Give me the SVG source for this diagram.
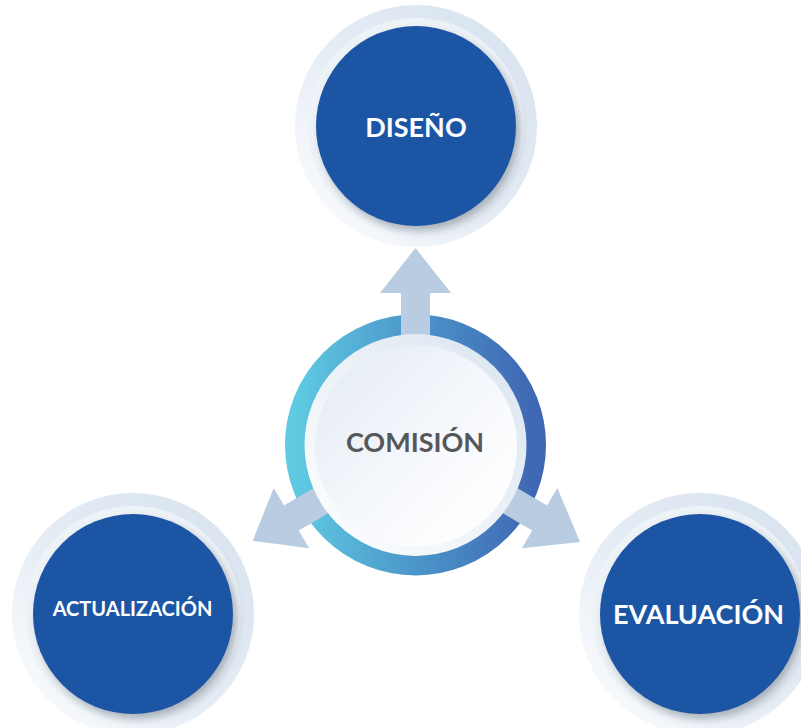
<svg xmlns="http://www.w3.org/2000/svg" width="801" height="728" viewBox="0 0 801 728">
<style>
.lbl{font-family:Lato,"Liberation Sans",sans-serif;font-weight:700;text-anchor:middle}
.w{fill:#ffffff}
.blue{fill:#1e55a4}
.arrow{fill:#b9cce1}
</style>
<defs>
<linearGradient id="halo" x1="1" y1="0" x2="0" y2="1">
<stop offset="0" stop-color="#d6e2ef"/>
<stop offset="0.55" stop-color="#e6edf5"/>
<stop offset="1" stop-color="#ffffff"/>
</linearGradient>
<linearGradient id="ring" x1="0" y1="0" x2="1" y2="0">
<stop offset="0" stop-color="#5fcae2"/>
<stop offset="0.5" stop-color="#4b95c9"/>
<stop offset="1" stop-color="#3f67b3"/>
</linearGradient>
<linearGradient id="core" x1="0" y1="0" x2="1" y2="1">
<stop offset="0" stop-color="#e3eaf4"/>
<stop offset="0.7" stop-color="#fbfcfe"/>
<stop offset="1" stop-color="#ffffff"/>
</linearGradient>
<linearGradient id="rim" x1="1" y1="0" x2="0" y2="1">
<stop offset="0" stop-color="#d9e4ef"/>
<stop offset="1" stop-color="#ffffff"/>
</linearGradient>
<filter id="sh" x="-30%" y="-30%" width="160%" height="160%">
<feGaussianBlur in="SourceAlpha" stdDeviation="4"/>
<feOffset dx="4" dy="5" result="b"/>
<feFlood flood-color="#6b7a86" flood-opacity="0.55"/>
<feComposite in2="b" operator="in"/>
<feMerge><feMergeNode/><feMergeNode in="SourceGraphic"/></feMerge>
</filter>
<g id="bubble">
<circle r="121" fill="url(#halo)"/>
<circle r="108" fill="#eef3f8"/>
<circle r="100" class="blue" filter="url(#sh)"/>
</g>
</defs>

<g id="connectors">
<g transform="translate(415.5,445)">
<polygon class="arrow" points="-14.5,-100 -14.5,-152 -35.5,-152 0,-197 35.5,-152 14.5,-152 14.5,-100"/>
<polygon class="arrow" transform="rotate(120.5)" points="-14.5,-100 -14.5,-144 -35,-144 0,-191 35,-144 14.5,-144 14.5,-100"/>
<polygon class="arrow" transform="rotate(239.5)" points="-14.5,-100 -14.5,-144 -35,-144 0,-189 35,-144 14.5,-144 14.5,-100"/>
</g>
</g>

<g id="comision">
<circle cx="415.5" cy="445" r="120" fill="none" stroke="url(#ring)" stroke-width="21"/>
<g transform="translate(415.5,445)">
<polygon class="arrow" points="-14.5,-100 -14.5,-135 14.5,-135 14.5,-100"/>
<polygon class="arrow" transform="rotate(120.5)" points="-14.5,-100 -14.5,-135 14.5,-135 14.5,-100"/>
<polygon class="arrow" transform="rotate(239.5)" points="-14.5,-100 -14.5,-135 14.5,-135 14.5,-100"/>
</g>
<circle cx="415.5" cy="445" r="111" fill="url(#rim)"/>
<circle cx="416" cy="446" r="101" fill="url(#core)"/>
<text class="lbl" x="415" y="452" font-size="27" fill="#555759">COMISIÓN</text>
</g>

<g id="diseno">
<use href="#bubble" x="416" y="126"/>
<text class="lbl w" x="416" y="137" font-size="27">DISEÑO</text>
</g>

<g id="actualizacion">
<use href="#bubble" x="133" y="614"/>
<text class="lbl w" x="132.5" y="616" font-size="20">ACTUALIZACIÓN</text>
</g>

<g id="evaluacion">
<use href="#bubble" x="700" y="614"/>
<text class="lbl w" x="698.5" y="624" font-size="27">EVALUACIÓN</text>
</g>
</svg>
